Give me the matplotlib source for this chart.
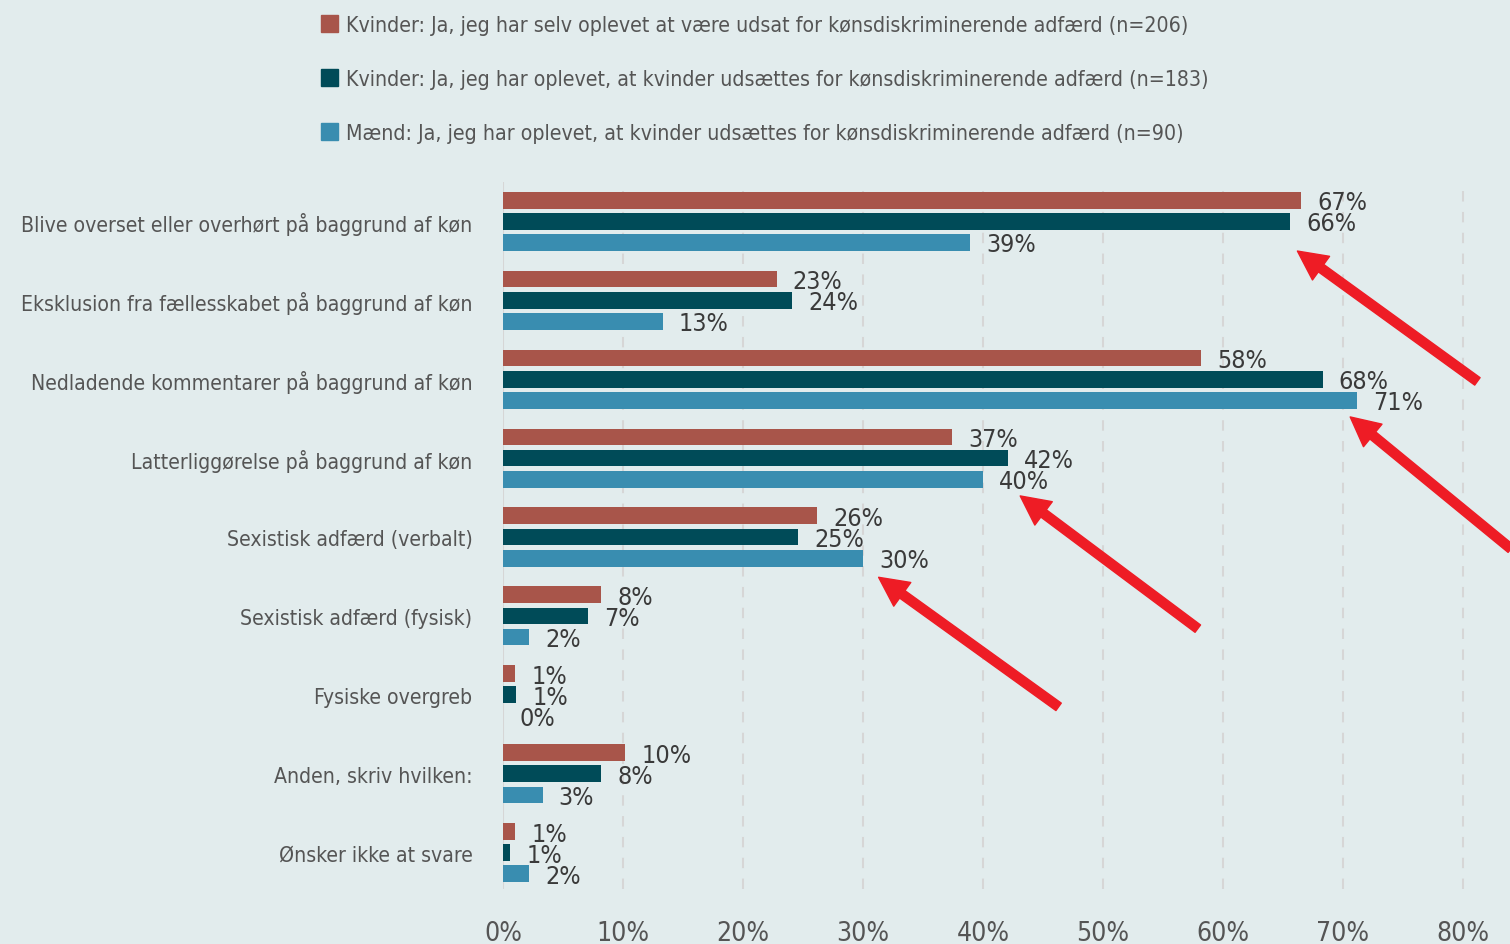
import matplotlib.pyplot as plt
import numpy as np
from matplotlib.patches import Patch

# --- data ---
categories = [
    "Blive overset eller overhørt på baggrund af køn",
    "Eksklusion fra fællesskabet på baggrund af køn",
    "Nedladende kommentarer på baggrund af køn",
    "Latterliggørelse på baggrund af køn",
    "Sexistisk adfærd (verbalt)",
    "Sexistisk adfærd (fysisk)",
    "Fysiske overgreb",
    "Anden, skriv hvilken:",
    "Ønsker ikke at svare",
]
series_names = [
    "Kvinder: Ja, jeg har selv oplevet at være udsat for kønsdiskriminerende adfærd (n=206)",
    "Kvinder: Ja, jeg har oplevet, at kvinder udsættes for kønsdiskriminerende adfærd (n=183)",
    "Mænd: Ja, jeg har oplevet, at kvinder udsættes for kønsdiskriminerende adfærd (n=90)",
]
kvinder_selv = [66.5, 22.8, 58.2, 37.4, 26.2, 8.2, 1.0, 10.2, 1.0]
kvinder_oplevet = [65.6, 24.1, 68.3, 42.1, 24.6, 7.1, 1.1, 8.2, 0.6]
maend_oplevet = [38.9, 13.3, 71.2, 40.0, 30.0, 2.2, 0.0, 3.3, 2.2]
labels_selv = [67, 23, 58, 37, 26, 8, 1, 10, 1]
labels_kvinder = [66, 24, 68, 42, 25, 7, 1, 8, 1]
labels_maend = [39, 13, 71, 40, 30, 2, 0, 3, 2]
x_ticks = [0, 10, 20, 30, 40, 50, 60, 70, 80]

# arrow annotations: (tail, head) in data coords
arrows = [
    ((81.2, 2.03), (66.2, 0.38)),
    ((84.0, 4.15), (70.6, 2.48)),
    ((57.9, 5.16), (43.1, 3.48)),
    ((46.3, 6.15), (31.3, 4.51)),
]

colors = ["#a8554a", "#004b58", "#398db0"]
bg = "#e2eced"
plt.rcParams["font.family"] = "DejaVu Sans"
plt.rcParams["font.stretch"] = "condensed"

fig = plt.figure(figsize=(15.1, 9.45), dpi=100, facecolor=bg)
ax = fig.add_axes([503 / 1510, 55 / 945, 1007 / 1510, 707 / 945], facecolor=bg)

y = np.arange(len(categories))
off = 0.266
h = 0.215
all_vals = [kvinder_selv, kvinder_oplevet, maend_oplevet]
all_labels = [labels_selv, labels_kvinder, labels_maend]
for k, (vals, labs) in enumerate(zip(all_vals, all_labels)):
    pos = y + (k - 1) * off
    ax.barh(pos, vals, height=h, color=colors[k], zorder=3)
    for p, v, l in zip(pos, vals, labs):
        ax.text(v + 1.35, p + 0.02, f"{l}%", va="center", ha="left",
                fontsize=18, color="#3a3a3a", zorder=4)

ax.set_xlim(0, 1007 / 12)
ax.set_ylim(8.456, -0.494)
ax.set_yticks(y)
ax.set_yticklabels(categories, fontsize=15.2, color="#555555")
ax.set_xticks(x_ticks)
ax.set_xticklabels([f"{t}%" for t in x_ticks], fontsize=19, color="#555555")
ax.tick_params(length=0)
ax.tick_params(axis="y", pad=22)
ax.tick_params(axis="x", pad=22)
for s in ax.spines.values():
    s.set_visible(False)
for t in x_ticks[1:]:
    ax.axvline(t, color="#d6d6d6", lw=1.5, ls=(0, (5, 5)), zorder=1)
ax.axvline(0, color="#d6d6d6", lw=1.5, zorder=1)

for tail, head in arrows:
    ax.annotate("", xy=head, xytext=tail,
                arrowprops=dict(arrowstyle="simple,head_length=1.05,head_width=1.05,tail_width=0.33",
                                color="#ee1c25", mutation_scale=20, shrinkA=0, shrinkB=0),
                zorder=5, annotation_clip=False)

handles = [Patch(color=c) for c in colors]
fig.legend(handles, series_names, loc="upper left", bbox_to_anchor=(306 / 1510, 0.999),
           frameon=False, fontsize=15.3, labelcolor="#555555", handlelength=0.8,
           handleheight=0.8, handletextpad=0.4, labelspacing=1.6, borderaxespad=0.3)

fig.savefig("out.png", dpi=100, facecolor=bg)
